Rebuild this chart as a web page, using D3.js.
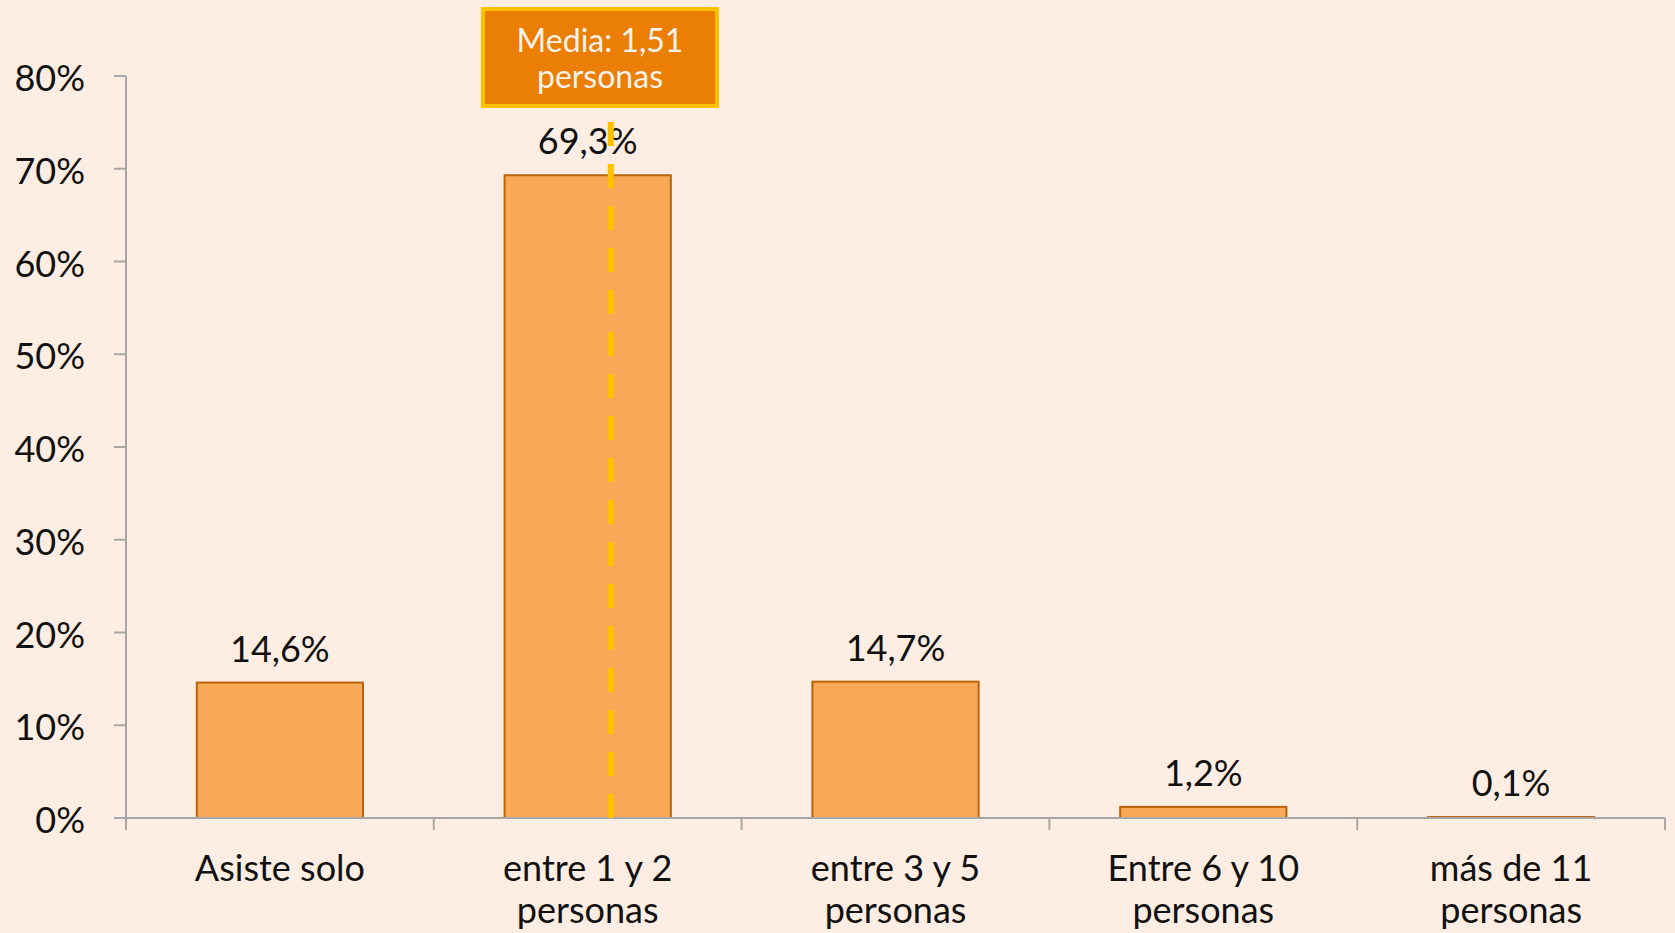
<!DOCTYPE html>
<html>
<head>
<meta charset="utf-8">
<script src="https://cdn.jsdelivr.net/npm/d3@7"></script>
<style>
  html, body { margin: 0; padding: 0; background: #fdede2; }
  svg { display: block; font-family: Lato, "Open Sans", sans-serif; }
</style>
</head>
<body>
<svg id="chart" width="1675" height="933"></svg>
<script>
// Data
const categories = [
  ["Asiste solo"],
  ["entre 1 y 2", "personas"],
  ["entre 3 y 5", "personas"],
  ["Entre 6 y 10", "personas"],
  ["más de 11", "personas"]
];
const values = [14.6, 69.3, 14.7, 1.2, 0.1];
const valueLabels = ["14,6%", "69,3%", "14,7%", "1,2%", "0,1%"];
const yTicks = [0, 10, 20, 30, 40, 50, 60, 70, 80];
const meanLines = ["Media: 1,51", "personas"];
const meanBandPos = 1.575; // where the mean line sits, in category widths

const width = 1675, height = 933;
const margin = {top: 76, right: 10, bottom: 115, left: 126};
const fontSize = 36;

const svg = d3.select('#chart');

const x = d3.scaleBand()
  .domain(d3.range(categories.length))
  .range([margin.left, width - margin.right])
  .paddingInner(0.46)
  .paddingOuter(0.23);

const y = d3.scaleLinear()
  .domain([0, 80])
  .range([height - margin.bottom, margin.top]);

const axisColor = "#a6a6a6";
const y0 = y(0);

// Bars
svg.append('g')
  .selectAll('rect')
  .data(values)
  .join('rect')
    .attr('x', (d, i) => x(i))
    .attr('y', d => y(d))
    .attr('width', x.bandwidth())
    .attr('height', d => y0 - y(d))
    .attr('fill', '#f9a857')
    .attr('stroke', '#bb620a')
    .attr('stroke-width', 2);

// Value labels above bars
svg.append('g')
  .selectAll('text')
  .data(values)
  .join('text')
    .attr('x', (d, i) => x(i) + x.bandwidth() / 2)
    .attr('y', d => y(d) - 21)
    .attr('text-anchor', 'middle')
    .attr('font-size', fontSize)
    .attr('fill', '#111')
    .text((d, i) => valueLabels[i]);

// Y axis
const yAxis = svg.append('g');
yAxis.append('line')
  .attr('x1', margin.left).attr('x2', margin.left)
  .attr('y1', y(80)).attr('y2', y0)
  .attr('stroke', axisColor).attr('stroke-width', 2);
yAxis.selectAll('.tick')
  .data(yTicks)
  .join('line')
    .attr('x1', margin.left - 12).attr('x2', margin.left)
    .attr('y1', d => y(d)).attr('y2', d => y(d))
    .attr('stroke', axisColor).attr('stroke-width', 2);
yAxis.selectAll('text')
  .data(yTicks)
  .join('text')
    .attr('x', 85)
    .attr('y', d => y(d) + 15)
    .attr('text-anchor', 'end')
    .attr('font-size', fontSize)
    .attr('fill', '#111')
    .text(d => d + '%');

// X axis
const step = x.step();
const xStart = margin.left, xEnd = width - margin.right;
const xAxis = svg.append('g');
xAxis.append('line')
  .attr('x1', margin.left - 12).attr('x2', xEnd)
  .attr('y1', y0).attr('y2', y0)
  .attr('stroke', axisColor).attr('stroke-width', 2);
xAxis.selectAll('.tick')
  .data(d3.range(categories.length + 1))
  .join('line')
    .attr('x1', i => xStart + i * step).attr('x2', i => xStart + i * step)
    .attr('y1', y0).attr('y2', y0 + 12)
    .attr('stroke', axisColor).attr('stroke-width', 2);

const catLabels = xAxis.selectAll('text')
  .data(categories)
  .join('text')
    .attr('text-anchor', 'middle')
    .attr('font-size', fontSize)
    .attr('fill', '#111');
catLabels.selectAll('tspan')
  .data((d, i) => d.map(line => ({line, i})))
  .join('tspan')
    .attr('x', d => x(d.i) + x.bandwidth() / 2)
    .attr('y', (d, j) => y0 + 63 + j * 42)
    .text(d => d.line);

// Mean line (dashed yellow)
const meanX = xStart + meanBandPos * step;
svg.append('line')
  .attr('x1', meanX).attr('x2', meanX)
  .attr('y1', y0).attr('y2', 120)
  .attr('stroke', '#ffc000')
  .attr('stroke-width', 6)
  .attr('stroke-dasharray', '24,18');

// Mean label box
const box = svg.append('g');
box.append('rect')
  .attr('x', 483).attr('y', 9)
  .attr('width', 234).attr('height', 97)
  .attr('fill', '#eb7f05')
  .attr('stroke', '#ffc000')
  .attr('stroke-width', 4);
box.append('text')
  .attr('text-anchor', 'middle')
  .attr('font-size', 32)
  .attr('fill', '#f8f2ea')
  .selectAll('tspan')
  .data(meanLines)
  .join('tspan')
    .attr('x', 600)
    .attr('y', (d, i) => 52 + i * 36)
    .text(d => d);
</script>
</body>
</html>
